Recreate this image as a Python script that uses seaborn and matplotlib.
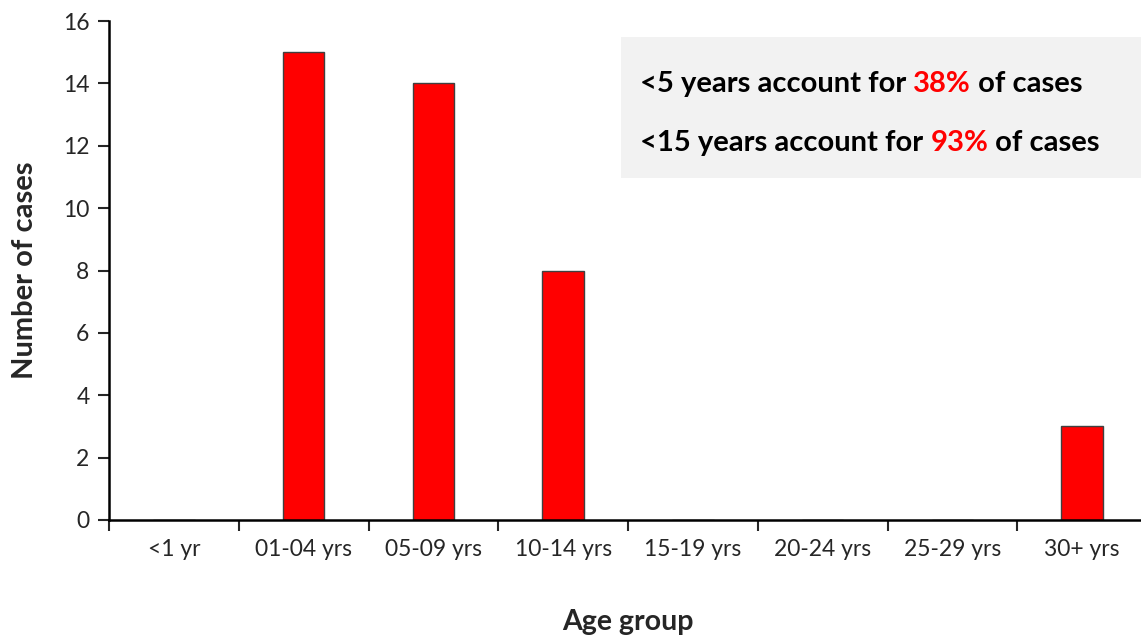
import matplotlib
matplotlib.use("Agg")
import matplotlib.pyplot as plt
import seaborn as sns
import pandas as pd
import numpy as np

categories = ["<1 yr", "01-04 yrs", "05-09 yrs", "10-14 yrs", "15-19 yrs", "20-24 yrs", "25-29 yrs", "30+ yrs"]
cases = [0, 15, 14, 8, 0, 0, 0, 3]
y_ticks = [0, 2, 4, 6, 8, 10, 12, 14, 16]

sns.set_theme(style="white")
plt.rcParams['font.family'] = ['Lato', 'DejaVu Sans']

df = pd.DataFrame({"Age group": categories, "Number of cases": cases})

fig = plt.figure(figsize=(11.41, 6.36), dpi=100)
ax = fig.add_axes([109/1141, 1 - 520/636, 1038/1141, 499/636])

sns.barplot(data=df, x="Age group", y="Number of cases", order=categories,
            color="#FF0000", saturation=1, width=0.32, edgecolor="#404040",
            linewidth=1, ax=ax)

ax.set_xlim(-0.5, len(categories) - 0.5)
ax.set_ylim(0, 16)
ax.set_yticks(y_ticks)
ax.set_yticklabels([str(t) for t in y_ticks], fontsize=16.5)
ax.set_xticks(range(len(categories)))
ax.set_xticklabels(categories, fontsize=16.5)
ax.set_xticks(np.arange(-0.5, len(categories) + 0.5, 1), minor=True)
ax.tick_params(axis="x", which="major", length=0, pad=14)
ax.tick_params(axis="x", which="minor", length=8, width=1.5, direction="out", bottom=True)
ax.tick_params(axis="y", length=8, width=1.5, direction="out", left=True, pad=6)

for s in ["top", "right"]:
    ax.spines[s].set_visible(False)
for s in ["left", "bottom"]:
    ax.spines[s].set_linewidth(1.8)
    ax.spines[s].set_color("black")

ax.set_xlabel("Age group", fontsize=20.5, fontweight="bold", labelpad=35)
ax.set_ylabel("Number of cases", fontsize=21, fontweight="bold", labelpad=18)

# Annotation box
box = plt.Rectangle((621/1141, 1 - 178/636), 520/1141, 141/636,
                    transform=fig.transFigure, facecolor="#F2F2F2",
                    edgecolor="none", zorder=5)
fig.patches.append(box)

lines = [
    [("<5 years account for ", "black"), ("38%", "#FF0000"), (" of cases", "black")],
    [("<15 years account for ", "black"), ("93%", "#FF0000"), (" of cases", "black")],
]
ys = [1 - 92/636, 1 - 151/636]
fig.canvas.draw()
renderer = fig.canvas.get_renderer()
for parts, yy in zip(lines, ys):
    x = 640 / 1141
    for txt, col in parts:
        t = fig.text(x, yy, txt, color=col, fontsize=21, fontweight="bold",
                     va="baseline", ha="left", zorder=6)
        bb = t.get_window_extent(renderer=renderer)
        x = bb.x1 / fig.bbox.width

fig.savefig("out.png", dpi=100)
